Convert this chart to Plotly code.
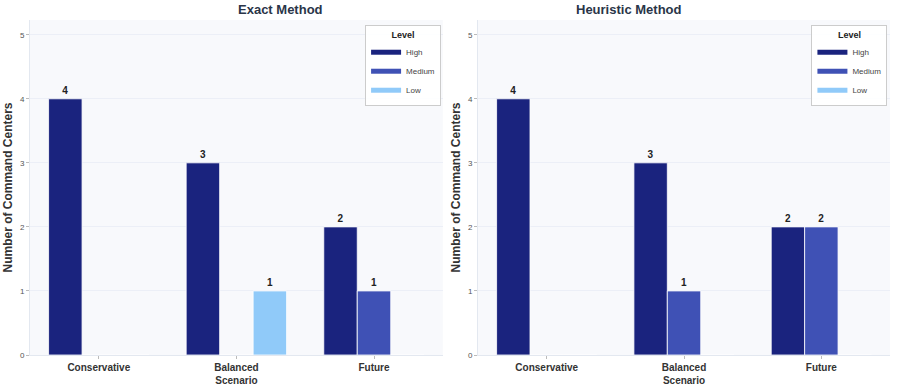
import plotly.graph_objects as go

categories = ["Conservative", "Balanced<br>Scenario", "Future"]
tick_labels = ["<b>Conservative</b>", "<b>Balanced</b><br><b>Scenario</b>", "<b>Future</b>"]
levels = ["High", "Medium", "Low"]
colors = ["#1a237e", "#3f51b5", "#90caf9"]

exact_high = [4, 3, 2]
exact_medium = [0, 0, 1]
exact_low = [0, 1, 0]

heur_high = [4, 3, 2]
heur_medium = [0, 1, 2]
heur_low = [0, 0, 0]

exact = [exact_high, exact_medium, exact_low]
heur = [heur_high, heur_medium, heur_low]

fig = go.Figure()

def add(values_sets, xa, ya, legend):
    for lvl, col, vals in zip(levels, colors, values_sets):
        fig.add_trace(go.Bar(
            x=categories, y=vals, name=lvl, xaxis=xa, yaxis=ya,
            marker=dict(color=col, line=dict(color="rgba(255,255,255,0.8)", width=1)),
            showlegend=False,
            text=["<b>" + str(v) + "</b>" if v else "" for v in vals],
            textposition="outside", cliponaxis=False,
            textfont=dict(size=10, color="#222"),
            offsetgroup=lvl,
        ))
    for lvl, col in zip(levels, colors):
        fig.add_trace(go.Scatter(
            x=[None], y=[None], mode="lines", name=lvl, xaxis=xa, yaxis=ya,
            line=dict(color=col, width=5), legend=legend, showlegend=True,
        ))

add(exact, "x", "y", "legend")
add(heur, "x2", "y2", "legend2")

ycommon = dict(range=[0, 5.23], dtick=1, gridcolor="#eceff7", zeroline=False,
               showline=True, linecolor="#e3e8f0", linewidth=1, ticks="outside",
               ticklen=3, tickcolor="#bbb", tickfont=dict(size=8, color="#555"),
               automargin=False,
               title=dict(text="<b>Number of Command Centers</b>", font=dict(size=12, color="#333"), standoff=4))
xcommon = dict(tickfont=dict(size=10, color="#333"), showline=True, linecolor="#e3e8f0",
               ticks="outside", ticklen=3, tickcolor="#bbb", automargin=False,
               tickvals=categories, ticktext=tick_labels)

legend_common = dict(y=0.985, yanchor="top", bgcolor="rgba(255,255,255,0.9)",
                     bordercolor="#ccc", borderwidth=1, font=dict(size=8, color="#444"),
                     title=dict(text="<b>Level</b>", font=dict(size=9, color="#222"), side="top center"),
                     itemwidth=30, tracegroupgap=0)

fig.update_layout(
    width=897, height=390,
    margin=dict(l=30, r=7, t=20, b=35),
    paper_bgcolor="white", plot_bgcolor="#f8f9fc",
    barmode="group", bargap=0.27, bargroupgap=0,
    font=dict(family="Arial, Liberation Sans", color="#333"),
    xaxis=dict(domain=[0, 0.48], anchor="y", **xcommon),
    xaxis2=dict(domain=[0.521, 1], anchor="y2", **xcommon),
    yaxis=dict(anchor="x", **ycommon),
    yaxis2=dict(anchor="x2", **ycommon),
    legend=dict(x=0.478, xanchor="right", **legend_common),
    legend2=dict(x=0.997, xanchor="right", **legend_common),
    annotations=[
        dict(text="<b>Exact Method</b>", x=0.24, y=1.0, xref="paper", yref="paper", yanchor="bottom",
             yshift=1, showarrow=False, font=dict(size=13, color="#2a3548")),
        dict(text="<b>Heuristic Method</b>", x=0.7605, y=1.0, xref="paper", yref="paper", yanchor="bottom",
             yshift=1, showarrow=False, font=dict(size=13, color="#2a3548")),
    ],
)

fig.write_html("out.html", config={"displayModeBar": False},
               post_script="document.body.style.margin='0';")
